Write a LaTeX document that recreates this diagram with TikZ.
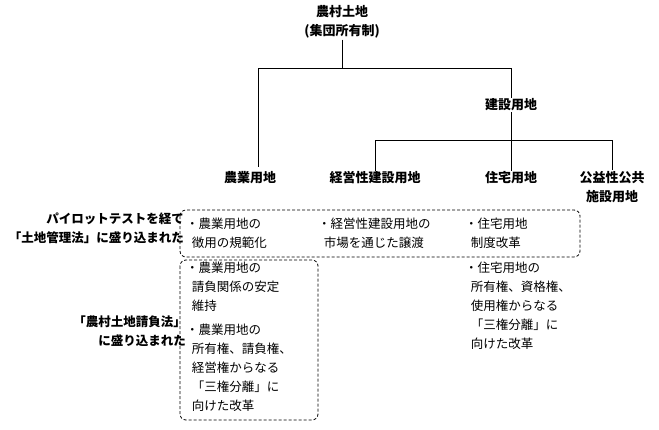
\documentclass[tikz,border=0pt]{standalone}
\usepackage{fontspec}
\setmainfont{Noto Sans CJK JP}
\usetikzlibrary{positioning}

\begin{document}
\begin{tikzpicture}[x=1pt,y=-1pt]
      \tikzstyle{hnode} = [font=\fontsize{13}{19}\selectfont\bfseries, align=center, inner sep=1pt]
      \tikzstyle{tnode} = [font=\fontsize{12.5}{19}\selectfont, align=left, anchor=north west, inner sep=0pt]
      \tikzstyle{lnode} = [font=\fontsize{12.5}{19}\selectfont\bfseries, align=right, anchor=east, inner sep=0pt]
      \tikzstyle{dbox} = [draw, line width=0.8pt, dash pattern=on 3pt off 2pt, rounded corners=6pt]
      \useasboundingbox (0,0) rectangle (659,429);

      \node[hnode] (root) at (342,22) {農村土地\\(集団所有制)};
      \node[hnode] (build) at (511,105) {建設用地};
      \node[hnode] (farm) at (250,178) {農業用地};
      \node[hnode] (biz) at (375,178) {経営性建設用地};
      \node[hnode] (house) at (511,178) {住宅用地};
      \node[hnode] (pub) at (612,187) {公益性公共\\施設用地};
      \coordinate (j1) at (342,68);
      \coordinate (j2) at (511,140);

      \draw (root) -- (j1);
      \draw (258,68) -- (511,68);
      \draw (258,68) -- (258,167);
      \draw (511,68) -- (build);
      \draw (build) -- (j2);
      \draw (375,140) -- (612,140);
      \draw (375,140) -- (biz);
      \draw (j2) -- (house);
      \draw (612,140) -- (pub);

      \draw[dbox] (180,210) rectangle (580,257);
      \draw[dbox] (180,260) rectangle (318,420);

      \node[lnode] (law1) at (184,228) {パイロットテストを経て\\「土地管理法」に盛り込まれた};
      \node[lnode] (law2) at (186,331) {「農村土地請負法」\\に盛り込まれた};

      \node[tnode] (t1) at (186,218) {・農業用地の\\\ \ 徴用の規範化};
      \node[tnode] (t2) at (318,218) {・経営性建設用地の\\\ \ 市場を通じた譲渡};
      \node[tnode] (t3) at (465,218) {・住宅用地\\\ \ 制度改革};
      \node[tnode] (t4) at (186,262) {・農業用地の\\\ \ 請負関係の安定\\\ \ 維持};
      \node[tnode] (t5) at (186,324) {・農業用地の\\\ \ 所有権、請負権、\\\ \ 経営権からなる\\\ \ 「三権分離」に\\\ \ 向けた改革};
      \node[tnode] (t6) at (465,262) {・住宅用地の\\\ \ 所有権、資格権、\\\ \ 使用権からなる\\\ \ 「三権分離」に\\\ \ 向けた改革};
\end{tikzpicture}
\end{document}
